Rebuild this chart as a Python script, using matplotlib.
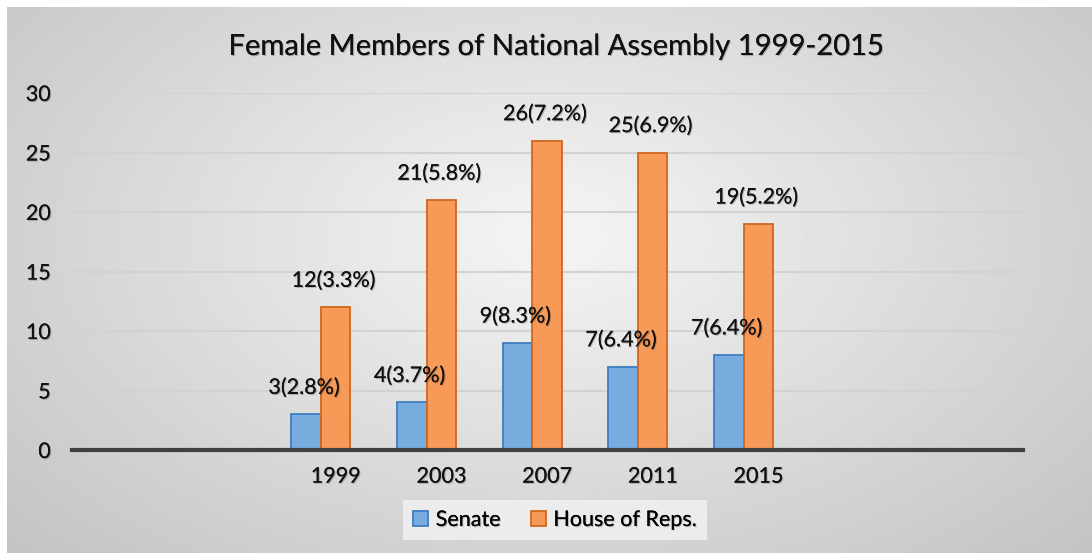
import matplotlib.pyplot as plt
import matplotlib.patheffects as pe
import numpy as np

# chart data (Excel sheet had two blank category slots either side)
categories = ['', '', '1999', '2003', '2007', '2011', '2015', '', '']
senate = [0, 0, 3, 4, 9, 7, 8, 0, 0]
house = [0, 0, 12, 21, 26, 25, 19, 0, 0]
senate_labels = ['', '', '3(2.8%)', '4(3.7%)', '9(8.3%)', '7(6.4%)', '7(6.4%)', '', '']
house_labels = ['', '', '12(3.3%)', '21(5.8%)', '26(7.2%)', '25(6.9%)', '19(5.2%)', '', '']

plt.rcParams['font.family'] = ['Lato', 'DejaVu Sans']

W, H = 1092, 553
FS = 15.5
fig = plt.figure(figsize=(W / 100, H / 100), dpi=100)
fig.patch.set_facecolor('white')

# radial grey background, white strip on top / left
bg = fig.add_axes([7 / W, 0, 1 - 7 / W, 1 - 7 / H])
yy, xx = np.mgrid[0:1:300j, 0:1:600j]
r = np.sqrt(((xx - 0.5) / 0.75) ** 2 + ((yy - 0.42) / 0.9) ** 2)
bg.imshow(0.96 - 0.21 * r, cmap='gray', vmin=0, vmax=1, aspect='auto',
          extent=[0, 1, 0, 1], interpolation='bilinear')
bg.axis('off')

ax = fig.add_axes([71.5 / W, (H - 450) / H, 951 / W, 357 / H])
ax.patch.set_alpha(0)

shadow = [pe.withSimplePatchShadow(offset=(0.8, -0.8), alpha=0.22, shadow_rgbFace='black'), pe.Normal()]

x = np.arange(len(categories))
w = 0.279
b1 = ax.bar(x - w, senate, w, color='#78ACDF', edgecolor='#3E7DC2', linewidth=1.3,
            label='Senate', zorder=3)
b2 = ax.bar(x, house, w, color='#F79A58', edgecolor='#D2661D', linewidth=1.3,
            label='House of Reps.', zorder=3)

for i in range(len(categories)):
    if senate_labels[i]:
        ax.annotate(senate_labels[i], (x[i] - w, senate[i]), xytext=(-1.5, 19),
                    textcoords='offset points', ha='center', va='center',
                    fontsize=FS, color='#111111', path_effects=shadow, zorder=5)
    if house_labels[i]:
        ax.annotate(house_labels[i], (x[i], house[i]), xytext=(-1.5, 19),
                    textcoords='offset points', ha='center', va='center',
                    fontsize=FS, color='#111111', path_effects=shadow, zorder=5)

ax.set_xlim(-0.5, len(categories) - 0.5)
ax.set_ylim(0, 30)
ax.set_yticks(range(0, 31, 5))
ax.set_xticks(x)
ax.set_xticklabels(categories)
ax.tick_params(axis='both', length=0, labelsize=FS, colors='#111111')
ax.tick_params(axis='x', pad=12)
ax.tick_params(axis='y', pad=15)
for lab in ax.get_xticklabels() + ax.get_yticklabels():
    lab.set_path_effects(shadow)

ax.grid(axis='y', color='#d2d2d2', linewidth=1.5, zorder=0)
for side in ['top', 'right', 'left']:
    ax.spines[side].set_visible(False)
ax.spines['bottom'].set_color('#404040')
ax.spines['bottom'].set_linewidth(3)
ax.spines['bottom'].set_zorder(4)

fig.text(556 / W, 1 - 47 / H, 'Female Members of National Assembly 1999-2015',
         ha='center', va='center', fontsize=21, color='#111111', path_effects=shadow)

leg = fig.legend(handles=[b1, b2], loc='center', bbox_to_anchor=(555 / W, 1 - 520 / H),
                 ncol=2, frameon=True, fancybox=False, fontsize=FS,
                 handlelength=0.7, handleheight=0.7, handletextpad=0.35,
                 columnspacing=1.4, borderpad=0.45)
leg.get_frame().set_facecolor('#ececec')
leg.get_frame().set_edgecolor('none')
leg.get_frame().set_alpha(1)
for t in leg.get_texts():
    t.set_path_effects(shadow)

fig.savefig('out.png', dpi=100)
